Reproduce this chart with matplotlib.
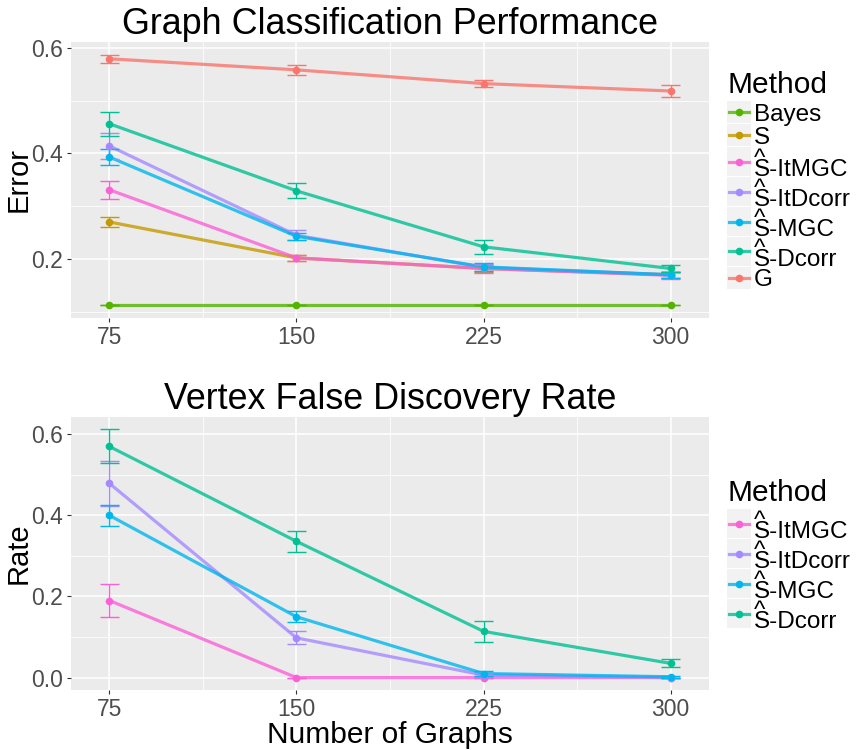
import matplotlib
matplotlib.use("Agg")
import matplotlib.pyplot as plt
from matplotlib.lines import Line2D
from matplotlib.patches import Rectangle
import numpy as np

plt.rcParams['font.family'] = ['Liberation Sans', 'DejaVu Sans']

# ---------------- data ----------------
n_graphs = [75, 150, 225, 300]

methods_top = ["Bayes", "S", "^S-ItMGC", "^S-ItDcorr", "^S-MGC", "^S-Dcorr", "G"]
colors_top = ["#53B400", "#C49A00", "#FB61D7", "#A58AFF", "#00B6EB", "#00C094", "#F8766D"]

err_bayes = [0.112, 0.112, 0.112, 0.112]
err_bayes_se = [0.0, 0.0, 0.0, 0.0]
err_s = [0.270, 0.202, 0.182, 0.170]
err_s_se = [0.010, 0.005, 0.007, 0.006]
err_itmgc = [0.331, 0.202, 0.182, 0.169]
err_itmgc_se = [0.017, 0.006, 0.008, 0.006]
err_itdcorr = [0.414, 0.245, 0.184, 0.170]
err_itdcorr_se = [0.025, 0.010, 0.007, 0.006]
err_mgc = [0.393, 0.243, 0.185, 0.170]
err_mgc_se = [0.016, 0.007, 0.007, 0.006]
err_dcorr = [0.456, 0.329, 0.223, 0.182]
err_dcorr_se = [0.023, 0.014, 0.013, 0.007]
err_g = [0.579, 0.558, 0.532, 0.518]
err_g_se = [0.008, 0.010, 0.006, 0.011]

methods_bot = ["^S-ItMGC", "^S-ItDcorr", "^S-MGC", "^S-Dcorr"]
colors_bot = ["#FB61D7", "#A58AFF", "#00B6EB", "#00C094"]

rate_itmgc = [0.190, 0.0, 0.0, 0.0]
rate_itmgc_se = [0.040, 0.0, 0.0, 0.0]
rate_itdcorr = [0.479, 0.098, 0.006, 0.0]
rate_itdcorr_se = [0.055, 0.016, 0.004, 0.0]
rate_mgc = [0.400, 0.150, 0.010, 0.002]
rate_mgc_se = [0.025, 0.014, 0.006, 0.002]
rate_dcorr = [0.570, 0.336, 0.114, 0.035]
rate_dcorr_se = [0.042, 0.026, 0.026, 0.010]

top_series = [(err_bayes, err_bayes_se), (err_s, err_s_se), (err_itmgc, err_itmgc_se),
              (err_itdcorr, err_itdcorr_se), (err_mgc, err_mgc_se),
              (err_dcorr, err_dcorr_se), (err_g, err_g_se)]
bot_series = [(rate_itmgc, rate_itmgc_se), (rate_itdcorr, rate_itdcorr_se),
              (rate_mgc, rate_mgc_se), (rate_dcorr, rate_dcorr_se)]

# ---------------- figure ----------------
W, H = 859, 750
fig = plt.figure(figsize=(W / 100, H / 100), dpi=100)
fig.patch.set_facecolor("white")

def px_axes(l, t, r, b):
    return fig.add_axes([l / W, 1 - b / H, (r - l) / W, (b - t) / H])

AX_L, AX_R = 71, 709
ax1 = px_axes(AX_L, 42, AX_R, 318)
ax2 = px_axes(AX_L, 417, AX_R, 690)

CAP = 3.75  # half errorbar width (data units)

def draw_panel(ax, series, colors, yticks, yminor, title, ylabel, xlabel=None):
    ax.set_facecolor("#EBEBEB")
    for s in ax.spines.values():
        s.set_visible(False)
    x = np.array(n_graphs, dtype=float)
    lows, highs = [], []
    for (vals, se), c in zip(series, colors):
        v = np.array(vals); e = np.array(se)
        ax.plot(x, v, color=c, lw=2.3, alpha=0.8, solid_capstyle='butt', zorder=3)
        ax.vlines(x, v - e, v + e, color=c, lw=1.0, zorder=4)
        ax.hlines(v - e, x - CAP, x + CAP, color=c, lw=1.0, zorder=4)
        ax.hlines(v + e, x - CAP, x + CAP, color=c, lw=1.0, zorder=4)
        ax.plot(x, v, 'o', color=c, ms=5.5, zorder=5, markeredgewidth=0)
        lows.append((v - e).min()); highs.append((v + e).max())
    lo, hi = min(lows), max(highs)
    pad = 0.05 * (hi - lo)
    ax.set_ylim(lo - pad, hi + pad)
    xlo, xhi = x.min() - CAP, x.max() + CAP
    xpad = 0.05 * (xhi - xlo)
    ax.set_xlim(xlo - xpad, xhi + xpad)
    ax.set_xticks(n_graphs)
    ax.set_xticklabels([str(v) for v in n_graphs])
    ax.set_xticks([112.5, 187.5, 262.5], minor=True)
    ax.set_yticks(yticks)
    ax.set_yticklabels(["%.1f" % t for t in yticks])
    ax.set_yticks(yminor, minor=True)
    ax.grid(which='major', color='white', lw=1.1, zorder=0)
    ax.grid(which='minor', color='white', lw=0.55, zorder=0)
    ax.set_axisbelow(True)
    ax.tick_params(which='major', length=3, width=0.8, color='#333333',
                   labelsize=16.5, labelcolor='#4D4D4D', pad=3)
    ax.tick_params(which='minor', length=0)
    ax.set_title(title, fontsize=25.8, color='black', pad=6)
    ax.set_ylabel(ylabel, fontsize=21, color='black')
    ax.yaxis.set_label_coords((33 - AX_L) / (AX_R - AX_L), 0.5)
    if xlabel:
        ax.set_xlabel(xlabel, fontsize=21.5, color='black', labelpad=0)

draw_panel(ax1, top_series, colors_top, [0.2, 0.4, 0.6], [0.1, 0.3, 0.5],
           "Graph Classification Performance", "Error")
draw_panel(ax2, bot_series, colors_bot, [0.0, 0.2, 0.4, 0.6], [0.1, 0.3, 0.5],
           "Vertex False Discovery Rate", "Rate", "Number of Graphs")

# ---------------- legends (manual, ggplot style) ----------------
def fx(x):
    return x / W

def fy(y):
    return 1 - y / H

def draw_legend(title_y, start_y, labels, colors):
    fig.text(fx(727), fy(title_y), "Method", fontsize=21.5, va='center', ha='left')
    y = start_y
    for lab, c in zip(labels, colors):
        hat = lab.startswith("^")
        h = 29 if hat else 22
        cy = y + h / 2
        fig.add_artist(Rectangle((fx(727), fy(y + h)), 24 / W, h / H,
                                 transform=fig.transFigure, facecolor='#F2F2F2',
                                 edgecolor='none'))
        fig.add_artist(Line2D([fx(729), fx(749)], [fy(cy), fy(cy)], color=c, lw=2.3,
                              alpha=0.8, transform=fig.transFigure))
        fig.add_artist(Line2D([fx(739)], [fy(cy)], color=c, marker='o', ms=5.5,
                              markeredgewidth=0, transform=fig.transFigure))
        if hat:
            txt = "^\n" + lab[1:]
            fig.text(fx(754), fy(cy + 14), txt, fontsize=17.5, va='baseline',
                     ha='left', linespacing=0.33)
        else:
            fig.text(fx(754), fy(cy + 8.5), lab, fontsize=17.5, va='baseline',
                     ha='left')
        y += h + 1

draw_legend(85, 101, methods_top, colors_top)
draw_legend(493, 509, methods_bot, colors_bot)

fig.savefig("out.png", dpi=100, facecolor="white")
